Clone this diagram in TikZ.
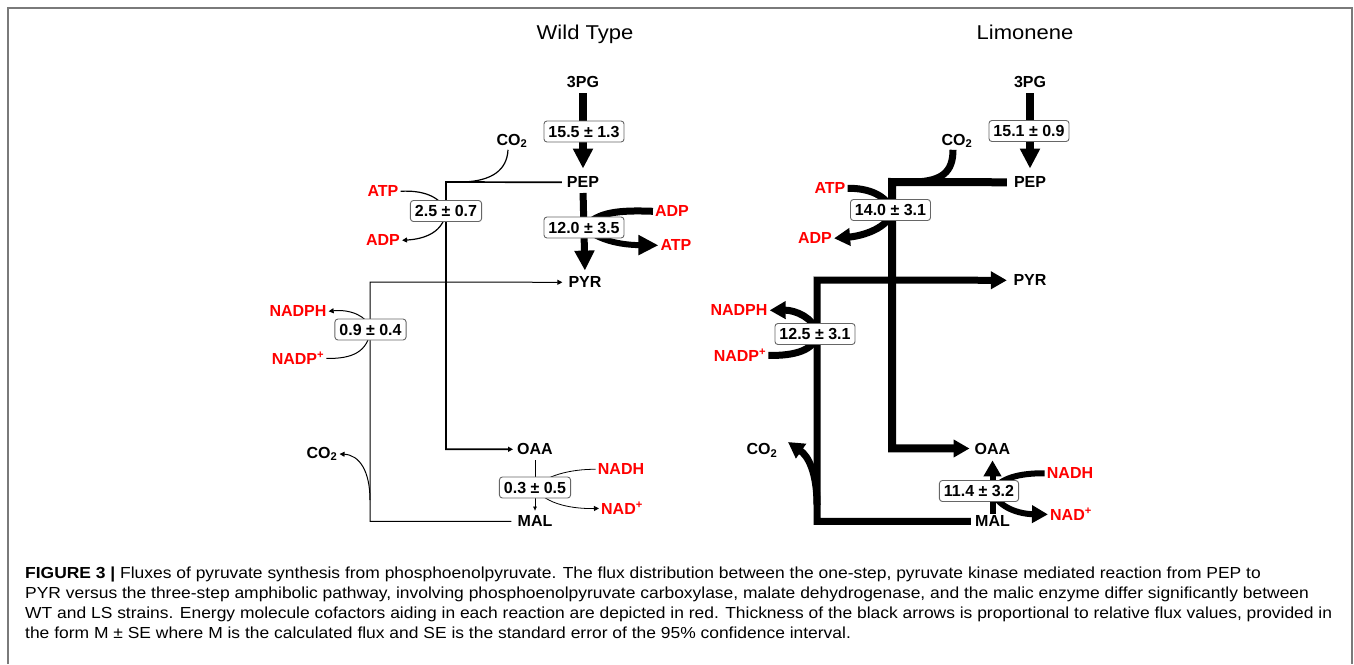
\documentclass[tikz,border=0pt]{standalone}
\usepackage{fontspec}
\setmainfont{Liberation Sans}
\newfontfamily\widefont[FakeStretch=1.1]{Liberation Sans}
\newfontfamily\capfont[FakeStretch=1.09]{Liberation Sans}
\usetikzlibrary{arrows.meta,backgrounds}
\definecolor{cofred}{HTML}{FF0000}
\definecolor{framegray}{HTML}{7A7A7A}
\begin{document}
\begin{tikzpicture}[x=1pt,y=-1pt,
  lab/.style={font=\bfseries\fontsize{16}{16}\selectfont, inner sep=2pt, anchor=base},
  cof/.style={lab, text=cofred},
  flux/.style={draw=black!60, line width=0.9pt, rounded corners=3pt, fill=white,
    font=\bfseries\fontsize{16}{16}\selectfont, inner xsep=4.5pt, inner ysep=4.75pt,
    text height=11.5pt, text depth=0pt},
  titl/.style={font=\widefont\fontsize{20}{20}\selectfont, anchor=base, inner sep=0pt},
  captext/.style={font=\capfont\fontsize{16}{20}\selectfont, anchor=base west, inner sep=0pt},
  tipbig/.style={-{Triangle[length=20pt,width=19pt]}},
  tipmed/.style={-{Triangle[length=16pt,width=17pt]}},
  tipsm/.style={-{Triangle[length=5pt,width=5pt]}},
  tiptiny/.style={-{Triangle[length=4pt,width=3.5pt]}}
]
\useasboundingbox (0,0) rectangle (1354,664);
% frame
\draw[framegray, line width=1.5pt] (8,664) -- (8,8) -- (1352,8) -- (1352,664);

% titles
\node[titl] (tW) at (585,39.3) {Wild Type};
\node[titl] (tL) at (1025,39.3) {Limonene};

% ---------------- Wild type nodes ----------------
\node[lab] (n3pgW) at (583,87.8) {3PG};
\node[lab] (pepW) at (583,187.8) {PEP};
\node[lab] (pyrW) at (585,287.8) {PYR};
\node[lab] (oaaW) at (535,454.8) {OAA};
\node[lab] (malW) at (535,526.8) {MAL};
\node[lab] (co2W1) at (512,145) {CO\textsubscript{2}};
\node[lab] (co2W2) at (322,458.3) {CO\textsubscript{2}};
\node[cof] (atpW1) at (383,196.8) {ATP};
\node[cof] (adpW1) at (383,245.8) {ADP};
\node[cof] (adpW2) at (672,216.8) {ADP};
\node[cof] (atpW2) at (676,250.8) {ATP};
\node[cof] (nadphW) at (298,316.8) {NADPH};
\node[cof] (nadpW) at (298,364.8) {NADP\textsuperscript{+}};
\node[cof] (nadhW) at (621,474.8) {NADH};
\node[cof] (nadW) at (622,514.8) {NAD\textsuperscript{+}};
\node[flux] (boxW1) at (584,131.5) {15.5 ± 1.3};
\node[flux] (boxW2) at (446,211) {2.5 ± 0.7};
\node[flux] (boxW3) at (584,227.5) {12.0 ± 3.5};
\node[flux] (boxW4) at (370.5,329.5) {0.9 ± 0.4};
\node[flux] (boxW5) at (535,487.5) {0.3 ± 0.5};
\coordinate (jW1) at (446,182);
\coordinate (cW1) at (463,182);
\coordinate (jW2) at (370,282);
\coordinate (cW2) at (370,500);

% ---------------- Limonene nodes ----------------
\node[lab] (n3pgL) at (1030,87.8) {3PG};
\node[lab] (pepL) at (1030,187.8) {PEP};
\node[lab] (pyrL) at (1030,285.8) {PYR};
\node[lab] (oaaL) at (992.5,454) {OAA};
\node[lab] (malL) at (992.5,526.8) {MAL};
\node[lab] (co2L1) at (957,145) {CO\textsubscript{2}};
\node[lab] (co2L2) at (762,454.5) {CO\textsubscript{2}};
\node[cof] (atpL) at (830,193.8) {ATP};
\node[cof] (adpL) at (815,243.8) {ADP};
\node[cof] (nadphL) at (739,315.8) {NADPH};
\node[cof] (nadpL) at (740,361.8) {NADP\textsuperscript{+}};
\node[cof] (nadhL) at (1070,478.8) {NADH};
\node[cof] (nadL) at (1071,520.8) {NAD\textsuperscript{+}};
\node[flux] (boxL1) at (1029,131) {15.1 ± 0.9};
\node[flux] (boxL2) at (890.5,210) {14.0 ± 3.1};
\node[flux] (boxL3) at (815,334) {12.5 ± 3.1};
\node[flux] (boxL4) at (979,491) {11.4 ± 3.2};
\coordinate (jL1) at (892,182);
\coordinate (cL1) at (915,182);
\coordinate (jL2) at (817,280);
\coordinate (cL2) at (817,505);
\coordinate (cL2tip) at (788,442);
\coordinate (mL) at (992.5,491);
\coordinate (aL) at (892,210);
\coordinate (nL) at (817,334);

% ---------------- connectors ----------------
\begin{scope}[on background layer]
% Wild type
\draw[line width=8pt, tipbig, shorten <=3pt, shorten >=6pt] (n3pgW.south) -- (pepW.north);
\draw[line width=7pt, tipbig, shorten <=3pt, shorten >=4pt] (pepW.south) -- (pyrW.north);
\draw[line width=1.7pt, tipsm, shorten <=3pt, shorten >=2pt] (pepW.west) -- (jW1) |- (oaaW.west);
\draw[line width=1.2pt] ([xshift=-4pt]co2W1.south) .. controls (507,170) and (492,181) .. (cW1);
\draw[line width=1.2pt] (atpW1.east) .. controls (422,190) and (440,196) .. (boxW2.center);
\draw[line width=1.2pt, tipsm] (boxW2.center) .. controls (444,232) and (425,239) .. (adpW1.east);
\draw[line width=7pt] (adpW2.west) .. controls (618,210) and (598,212) .. (boxW3.center);
\draw[line width=6pt, tipbig] (boxW3.center) .. controls (600,242) and (625,245) .. (atpW2.west);
\draw[line width=1pt, tipsm, shorten <=4pt, shorten >=4pt] (malW.west) -| (jW2) -- (pyrW.west);
\draw[line width=1pt, tipsm] (boxW4.center) .. controls (368,316) and (350,309) .. (nadphW.east);
\draw[line width=1pt] (nadpW.east) .. controls (352,359) and (368,352) .. (boxW4.center);
\draw[line width=1pt, tipsm] (cW2) .. controls (370,472) and (360,455) .. (co2W2.east);
\draw[line width=0.7pt, tiptiny, shorten <=3pt, shorten >=3pt] (oaaW.south) -- (malW.north);
\draw[line width=0.8pt] (nadhW.west) .. controls (570,469) and (545,476) .. (boxW5.center);
\draw[line width=0.8pt, tipsm] (boxW5.center) .. controls (545,505) and (575,509) .. (nadW.west);
% Limonene
\draw[line width=8pt, tipbig, shorten <=3pt, shorten >=6pt] (n3pgL.south) -- (pepL.north);
\draw[line width=8pt, tipmed, shorten <=5pt, shorten >=3pt] (pepL.west) -- (jL1) |- (oaaL.west);
\draw[line width=7pt] ([xshift=-4pt]co2L1.south) .. controls (953,172) and (942,181) .. (cL1);
\draw[line width=7pt] (atpL.east) .. controls (870,188) and (886,196) .. (aL);
\draw[line width=7pt, tipmed] (aL) .. controls (890,228) and (862,236) .. (adpL.east);
\draw[line width=7pt, tipmed, shorten <=2pt, shorten >=4.5pt] (malL.west) -| (jL2) -- (pyrL.west);
\draw[line width=7pt, tipmed] (nL) .. controls (815,318) and (795,310) .. (nadphL.east);
\draw[line width=7pt] (nadpL.east) .. controls (795,356) and (815,350) .. (nL);
\draw[line width=7pt, tipmed] (cL2) .. controls (817,472) and (808,456) .. (cL2tip);
\draw[line width=6pt, tipmed, shorten >=4pt] (malL.north) -- (oaaL.south);
\draw[line width=6pt] (nadhL.west) .. controls (1020,473) and (1000,478) .. (mL);
\draw[line width=6pt, tipmed] (mL) .. controls (998,508) and (1020,514) .. (nadL.west);
\end{scope}

% ---------------- caption ----------------
\node[captext] (cap1) at (25,578) {\textbf{FIGURE 3} \textbf{|} Fluxes of pyruvate synthesis from phosphoenolpyruvate. The flux distribution between the one-step, pyruvate kinase mediated reaction from PEP to};
\node[captext] (cap2) at (25,598.5) {PYR versus the three-step amphibolic pathway, involving phosphoenolpyruvate carboxylase, malate dehydrogenase, and the malic enzyme differ significantly between};
\node[captext] (cap3) at (25,618.5) {WT and LS strains. Energy molecule cofactors aiding in each reaction are depicted in red. Thickness of the black arrows is proportional to relative flux values, provided in};
\node[captext] (cap4) at (25,638.5) {the form M ± SE where M is the calculated flux and SE is the standard error of the 95\% confidence interval.};
\end{tikzpicture}
\end{document}
